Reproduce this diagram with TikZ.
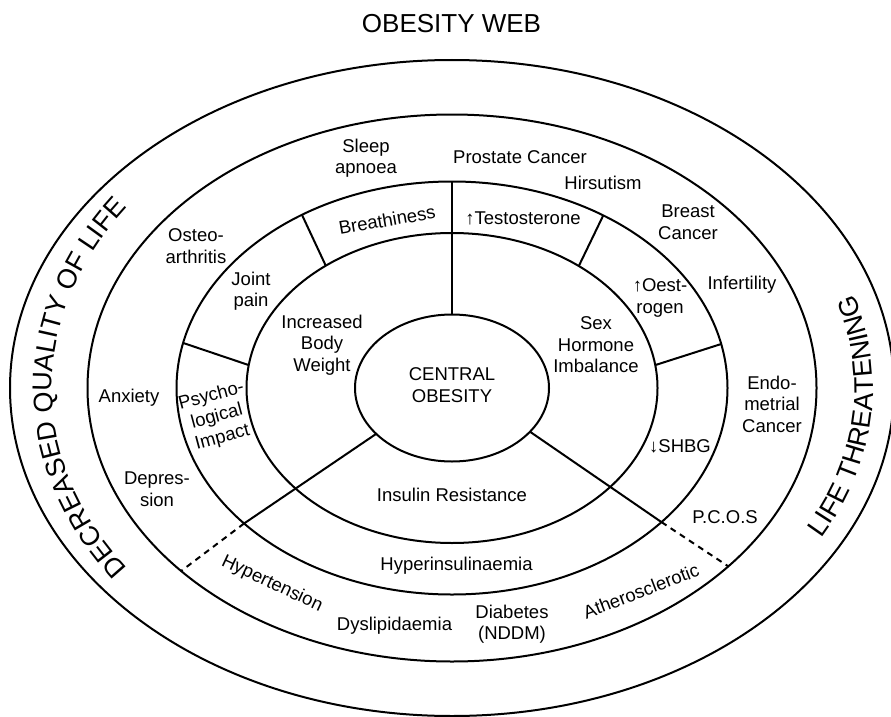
\documentclass[tikz,border=0pt]{standalone}
\usepackage{fontspec}
\setmainfont{Liberation Sans}
\usetikzlibrary{decorations.text}
\begin{document}
\begin{tikzpicture}[x=1pt,y=1pt,
  ring/.style={line width=2pt},
  spoke/.style={line width=2pt},
  dashspoke/.style={line width=2pt, dash pattern=on 6pt off 5pt},
  lbl/.style={font=\fontsize{18.5}{21.5}\selectfont, align=center, inner sep=0pt},
  ttl/.style={font=\fontsize{26}{30}\selectfont, inner sep=0pt}
  ]
\useasboundingbox (0,0) rectangle (891,-717);
\begin{scope}[shift={(452,-388)}]
  \draw[ring] (0,0) ellipse [x radius=442pt, y radius=328pt];
  \draw[ring] (0,0) ellipse [x radius=364.5pt, y radius=273.5pt];
  \draw[ring] (0,0) ellipse [x radius=275.5pt, y radius=206.5pt];
  \draw[ring] (0,0) ellipse [x radius=205.5pt, y radius=155pt];
  \draw[ring] (0,0) ellipse [x radius=97pt, y radius=73.5pt];
  % spoke end points
  \coordinate (v5) at (90:97pt and 73.5pt);
  \coordinate (v3) at (90:275.5pt and 206.5pt);
  \coordinate (b4) at (127.9:205.5pt and 155pt);
  \coordinate (b3) at (123:275.5pt and 206.5pt);
  \coordinate (j4) at (171.5:205.5pt and 155pt);
  \coordinate (j3) at (167.4:275.5pt and 206.5pt);
  \coordinate (t4) at (51.9:205.5pt and 155pt);
  \coordinate (t3) at (56.7:275.5pt and 206.5pt);
  \coordinate (o4) at (8.5:205.5pt and 155pt);
  \coordinate (o3) at (12.3:275.5pt and 206.5pt);
  \coordinate (l5) at (218.6:97pt and 73.5pt);
  \coordinate (l3) at (221:275.5pt and 206.5pt);
  \coordinate (l2) at (222:364.5pt and 273.5pt);
  \coordinate (r5) at (-36.5:97pt and 73.5pt);
  \coordinate (r3) at (-40.5:275.5pt and 206.5pt);
  \coordinate (r2) at (-40.7:364.5pt and 273.5pt);
  % curved big labels
  \path[decorate, decoration={text along path, text align=center,
      text={|\fontsize{27}{27}\selectfont|DECREASED QUALITY OF LIFE}}]
    (228:400pt and 309pt) arc[start angle=228, end angle=132, x radius=400pt, y radius=309pt];
  \path[decorate, decoration={text along path, text align=center,
      text={|\fontsize{27}{27}\selectfont|LIFE THREATENING}}]
    (-50:421pt and 312pt) arc[start angle=-50, end angle=40, x radius=421pt, y radius=312pt];
\end{scope}
\draw[spoke] (v5) -- (v3);
\draw[spoke] (b4) -- (b3);
\draw[spoke] (j4) -- (j3);
\draw[spoke] (t4) -- (t3);
\draw[spoke] (o4) -- (o3);
\draw[spoke] (l5) -- (l3);
\draw[dashspoke] (l3) -- (l2);
\draw[spoke] (r5) -- (r3);
\draw[dashspoke] (r3) -- (r2);

\node[ttl] (title) at (451.5,-24) {OBESITY WEB};
\node[lbl] (central) at (452,-385) {CENTRAL\\OBESITY};
\node[lbl] (sleep) at (366,-158) {Sleep\\apnoea};
\node[lbl] (prostate) at (520,-157) {Prostate Cancer};
\node[lbl] (hirsutism) at (603,-183) {Hirsutism};
\node[lbl] (breast) at (688,-222) {Breast\\Cancer};
\node[lbl] (infert) at (742,-285) {Infertility};
\node[lbl] (endo) at (772,-404) {Endo-\\metrial\\Cancer};
\node[lbl] (pcos) at (725,-517) {P.C.O.S};
\node[lbl, rotate=21] (athero) at (641,-591) {Atherosclerotic};
\node[lbl] (diabetes) at (512,-624) {Diabetes\\(NDDM)};
\node[lbl] (dyslip) at (394.5,-626) {Dyslipidaemia};
\node[lbl, rotate=-25] (hypert) at (272,-584) {Hypertension};
\node[lbl] (depres) at (157,-489) {Depres-\\sion};
\node[lbl] (anxiety) at (129,-398) {Anxiety};
\node[lbl] (osteo) at (196,-246) {Osteo-\\arthritis};
\node[lbl] (joint) at (251,-291) {Joint\\pain};
\node[lbl, rotate=10] (breath) at (387,-220) {Breathiness};
\node[lbl] (testo) at (523,-218) {↑Testosterone};
\node[lbl] (oest) at (660,-298) {↑Oest-\\rogen};
\node[lbl] (shbg) at (680,-446) {↓SHBG};
\node[lbl, rotate=15] (psych) at (217,-417) {Psycho-\\logical\\Impact};
\node[lbl] (increased) at (322,-345) {Increased\\Body\\Weight};
\node[lbl] (sex) at (596,-345) {Sex\\Hormone\\Imbalance};
\node[lbl] (insulin) at (452,-495) {Insulin Resistance};
\node[lbl] (hyperins) at (456.5,-566) {Hyperinsulinaemia};
\end{tikzpicture}
\end{document}
